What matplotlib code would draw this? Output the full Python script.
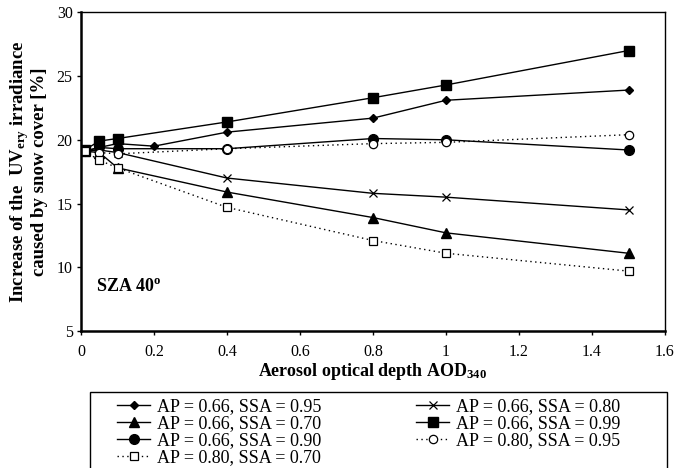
import matplotlib
matplotlib.use("Agg")
import matplotlib.pyplot as plt
from matplotlib.patches import Rectangle

plt.rcParams['font.family'] = ['Liberation Serif', 'DejaVu Serif']
plt.rcParams['mathtext.default'] = 'regular'

# aerosol optical depth (x) and snow-cover increase of UVery irradiance [%]
aod = [0.01, 0.05, 0.1, 0.4, 0.8, 1.0, 1.5]
aod_diamond = [0.01, 0.05, 0.1, 0.2, 0.4, 0.8, 1.0, 1.5]

ap066_ssa095 = [19.1, 19.4, 19.7, 19.5, 20.6, 21.7, 23.1, 23.9]
ap066_ssa080 = [19.1, 19.2, 19.0, 17.0, 15.8, 15.5, 14.5]
ap066_ssa070 = [19.1, 19.0, 17.8, 15.9, 13.9, 12.7, 11.1]
ap066_ssa099 = [19.2, 19.9, 20.1, 21.4, 23.3, 24.3, 27.0]
ap066_ssa090 = [19.1, 19.4, 19.3, 19.3, 20.1, 20.0, 19.2]
ap080_ssa095 = [19.1, 19.0, 18.9, 19.3, 19.7, 19.8, 20.4]
ap080_ssa070 = [19.1, 18.4, 17.8, 14.7, 12.1, 11.1, 9.7]

labels = ["AP = 0.66, SSA = 0.95", "AP = 0.66, SSA = 0.80",
          "AP = 0.66, SSA = 0.70", "AP = 0.66, SSA = 0.99",
          "AP = 0.66, SSA = 0.90", "AP = 0.80, SSA = 0.95",
          "AP = 0.80, SSA = 0.70"]

x_ticks = [0, 0.2, 0.4, 0.6, 0.8, 1.0, 1.2, 1.4, 1.6]
x_ticklabels = ["0", "0.2", "0.4", "0.6", "0.8", "1", "1.2", "1.4", "1.6"]
y_ticks = [5, 10, 15, 20, 25, 30]

fig = plt.figure(figsize=(6.75, 4.68), dpi=100)
ax = fig.add_axes([0.12, 0.2927, 0.8652, 0.681])

dot = (0, (1, 2.5))
lw = 1.0
h_dia, = ax.plot(aod_diamond, ap066_ssa095, color='black', lw=lw, marker='D', ms=4.5, label=labels[0])
h_x, = ax.plot(aod, ap066_ssa080, color='black', lw=lw, marker='x', ms=6, mew=0.9, label=labels[1])
h_tri, = ax.plot(aod, ap066_ssa070, color='black', lw=lw, marker='^', ms=6.5, label=labels[2])
h_sq, = ax.plot(aod, ap066_ssa099, color='black', lw=lw, marker='s', ms=6.5, label=labels[3])
h_ci, = ax.plot(aod, ap066_ssa090, color='black', lw=lw, marker='o', ms=7, label=labels[4])
h_oci, = ax.plot(aod, ap080_ssa095, color='black', lw=lw, ls=dot, marker='o', ms=6,
                 mfc='white', mew=0.9, label=labels[5])
h_osq, = ax.plot(aod, ap080_ssa070, color='black', lw=lw, ls=dot, marker='s', ms=6,
                 mfc='white', mew=0.9, label=labels[6])

ax.set_xlim(0, 1.6)
ax.set_ylim(5, 30)
ax.set_xticks(x_ticks)
ax.set_xticklabels(x_ticklabels)
ax.set_yticks(y_ticks)
ax.tick_params(axis='both', direction='out', length=3, width=1, labelsize=11.5,
               top=False, right=False)
ax.tick_params(axis='x', pad=6)
ax.tick_params(axis='y', pad=3)
for s in ax.spines.values():
    s.set_linewidth(1.0)
ax.spines['left'].set_linewidth(1.8)
ax.spines['bottom'].set_linewidth(1.8)

ax.set_xlabel("Aerosol optical depth AOD$_{340}$", fontsize=13, fontweight='bold')
ax.set_ylabel("Increase of the  UV$_{ery}$ irradiance\ncaused by snow cover [%]",
              fontsize=13.5, fontweight='bold', linespacing=1.0)
ax.yaxis.set_label_coords(-0.056, 0.5)
ax.xaxis.set_label_coords(0.5, -0.095)

ax.text(0.04, 8.1, "SZA 40$^{o}$", fontsize=13, fontweight='bold', va='baseline')

# legend below the plot, framed box reaching the bottom edge
handles = [h_dia, h_tri, h_ci, h_osq, h_x, h_sq, h_oci]
fig.legend(handles, [h.get_label() for h in handles], ncol=2, frameon=False,
           loc='upper left', bbox_to_anchor=(0.174, 0.1496), fontsize=13,
           handlelength=1.8, handletextpad=0.4, columnspacing=5.25,
           labelspacing=0.0, borderaxespad=0, borderpad=0)
fig.patches.append(Rectangle((0.1333, -0.01), 0.855, 0.1724, transform=fig.transFigure,
                             fill=False, edgecolor='black', lw=1.0))

fig.savefig("out.png", dpi=100)
